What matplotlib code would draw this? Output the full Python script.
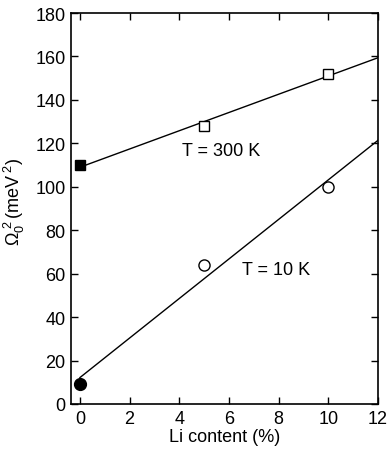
import numpy as np
import matplotlib
matplotlib.use('Agg')
import matplotlib.pyplot as plt

plt.rcParams['font.family'] = ['Liberation Sans', 'DejaVu Sans']
plt.rcParams['mathtext.fontset'] = 'custom'
plt.rcParams['mathtext.rm'] = 'Liberation Sans'
plt.rcParams['mathtext.it'] = 'Liberation Sans'

li_content = [0, 5, 10]
omega_300K = [110, 128, 152]
omega_10K = [9, 64, 100]

fig = plt.figure(figsize=(3.88, 4.52), dpi=100)
ax = fig.add_axes([0.183, 0.104, 0.791, 0.865])

# linear fits drawn from 0 to 12
xfit = np.array([0, 12])
for y in (omega_300K, omega_10K):
    p = np.polyfit(li_content, y, 1)
    ax.plot(xfit, np.polyval(p, xfit), color='black', lw=1)

ax.plot(li_content[:1], omega_300K[:1], 's', ms=7, mfc='black', mec='black')
ax.plot(li_content[1:], omega_300K[1:], 's', ms=7, mfc='white', mec='black', mew=1)
ax.plot(li_content[:1], omega_10K[:1], 'o', ms=8.5, mfc='black', mec='black')
ax.plot(li_content[1:], omega_10K[1:], 'o', ms=8, mfc='white', mec='black', mew=1)

ax.text(5.7, 116.5, 'T = 300 K', fontsize=13, ha='center', va='center')
ax.text(7.9, 62, 'T = 10 K', fontsize=13, ha='center', va='center')

ax.set_xlim(-0.36, 12)
ax.set_ylim(0, 180)
ax.set_xticks(range(0, 13, 2))
ax.set_yticks(range(0, 181, 20))
ax.tick_params(direction='in', top=True, right=True, labelsize=13, length=5, width=1, pad=4)
for s in ax.spines.values():
    s.set_linewidth(1.2)

ax.set_xlabel('Li content (%)', fontsize=13, labelpad=1)
ax.set_ylabel(r'$\Omega_0^{\ 2}\,(\mathrm{meV}^{\ 2})$', fontsize=13)
ax.yaxis.set_label_coords(-0.145, 0.52)

fig.savefig('out.png', dpi=100)
